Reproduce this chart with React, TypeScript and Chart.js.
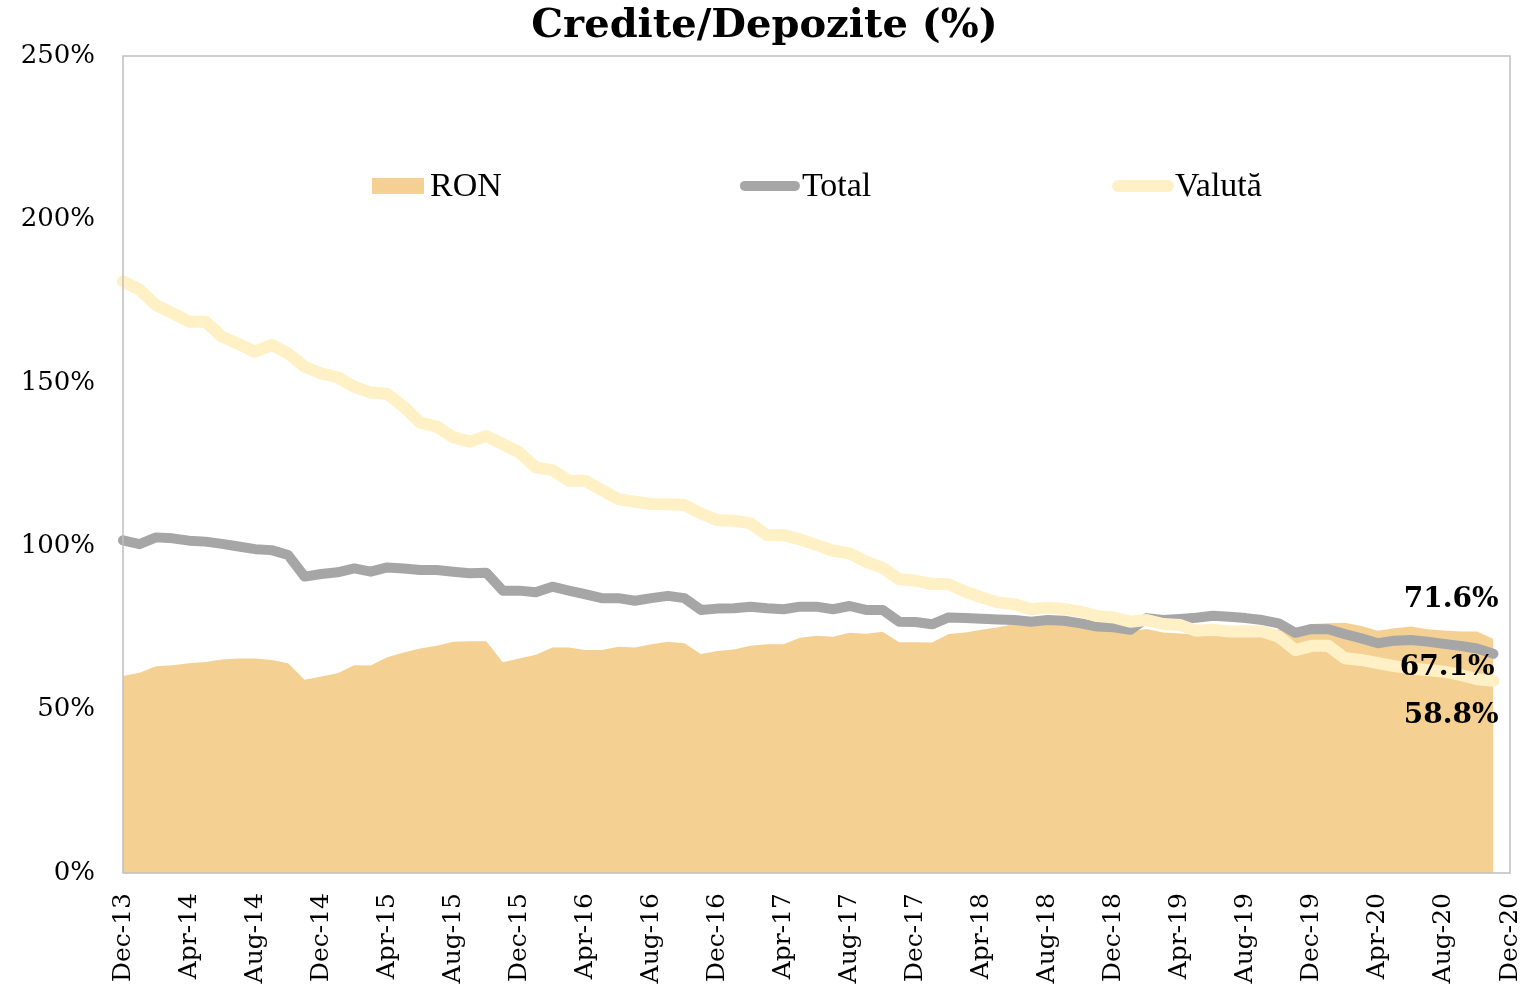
import React, { useEffect, useRef } from "react";
import { Chart, registerables } from "chart.js";

Chart.register(...registerables);

const labels = [
  "Dec-13",
  "Jan-14", "Feb-14", "Mar-14", "Apr-14", "May-14", "Jun-14", "Jul-14", "Aug-14", "Sep-14", "Oct-14", "Nov-14", "Dec-14",
  "Jan-15", "Feb-15", "Mar-15", "Apr-15", "May-15", "Jun-15", "Jul-15", "Aug-15", "Sep-15", "Oct-15", "Nov-15", "Dec-15",
  "Jan-16", "Feb-16", "Mar-16", "Apr-16", "May-16", "Jun-16", "Jul-16", "Aug-16", "Sep-16", "Oct-16", "Nov-16", "Dec-16",
  "Jan-17", "Feb-17", "Mar-17", "Apr-17", "May-17", "Jun-17", "Jul-17", "Aug-17", "Sep-17", "Oct-17", "Nov-17", "Dec-17",
  "Jan-18", "Feb-18", "Mar-18", "Apr-18", "May-18", "Jun-18", "Jul-18", "Aug-18", "Sep-18", "Oct-18", "Nov-18", "Dec-18",
  "Jan-19", "Feb-19", "Mar-19", "Apr-19", "May-19", "Jun-19", "Jul-19", "Aug-19", "Sep-19", "Oct-19", "Nov-19", "Dec-19",
  "Jan-20", "Feb-20", "Mar-20", "Apr-20", "May-20", "Jun-20", "Jul-20", "Aug-20", "Sep-20", "Oct-20", "Nov-20", "Dec-20",
];

const ron = [
  60.3, 61.3, 63.3, 63.6, 64.2, 64.6, 65.3, 65.6, 65.6, 65.2, 64.2, 59.1,
  60.1, 61.1, 63.6, 63.5, 66.0, 67.5, 68.7, 69.5, 70.8, 70.9, 70.9, 64.5,
  65.6, 66.8, 69.0, 69.0, 68.2, 68.2, 69.2, 69.0, 70.0, 70.8, 70.3, 67.0,
  67.9, 68.4, 69.5, 70.0, 70.0, 72.0, 72.6, 72.3, 73.5, 73.2, 73.8, 70.6,
  70.6, 70.5, 73.1, 73.6, 74.4, 75.2, 76.2, 76.0, 76.7, 76.6, 75.6, 74.4,
  74.1, 74.0, 74.7, 73.6, 73.3, 73.0, 73.2, 73.4, 73.5, 73.8, 74.5, 74.8,
  76.2, 76.4, 76.6, 75.6, 74.1, 74.9, 75.4, 74.6, 74.2, 73.9, 73.9, 71.6,
  null,
];

const total = [
  101.8, 100.6, 102.7, 102.4, 101.7, 101.4, 100.7, 99.9, 99.1, 98.8, 97.3, 90.7,
  91.5, 92.0, 93.2, 92.2, 93.5, 93.2, 92.7, 92.7, 92.2, 91.7, 91.9, 86.4,
  86.4, 85.9, 87.6, 86.4, 85.3, 84.1, 84.1, 83.3, 84.1, 84.8, 84.1, 80.5,
  80.9, 81.0, 81.5, 81.0, 80.7, 81.5, 81.5, 80.7, 81.7, 80.5, 80.5, 76.9,
  76.8, 76.1, 78.2, 78.0, 77.8, 77.6, 77.4, 76.9, 77.4, 77.2, 76.4, 75.4,
  75.2, 74.4, 78.0, 77.4, 77.7, 78.1, 78.7, 78.4, 78.0, 77.4, 76.4, 73.5,
  74.7, 74.6, 73.1, 71.8, 70.3, 71.1, 71.3, 70.8, 70.1, 69.5, 68.7, 67.1,
  null,
];

const valuta = [
  181.0, 178.5, 173.8, 171.3, 168.7, 168.7, 164.1, 161.9, 159.5, 161.6, 159.0, 154.9,
  152.9, 151.7, 148.8, 147.0, 146.6, 142.7, 137.8, 136.6, 133.3, 132.0, 133.7, 131.2,
  128.7, 124.1, 123.3, 120.0, 120.0, 117.2, 114.4, 113.6, 112.9, 112.8, 112.6, 110.0,
  108.0, 107.8, 107.0, 103.4, 103.4, 102.1, 100.4, 98.6, 97.8, 95.3, 93.4, 89.9,
  89.5, 88.4, 88.4, 86.1, 84.3, 82.8, 82.2, 80.7, 81.2, 80.8, 80.0, 78.6,
  78.2, 76.9, 77.4, 76.2, 75.9, 74.1, 74.4, 73.9, 74.0, 73.9, 72.3, 68.2,
  69.5, 69.5, 65.7, 65.2, 64.2, 63.3, 62.6, 62.1, 61.6, 60.6, 59.3, 58.8,
  null,
];

const seriesNames = ["RON", "Total", "Valută"];
const titleText = "Credite/Depozite (%)";

const COLOR_RON = "#F4D192";
const COLOR_TOTAL = "#A6A6A6";
const COLOR_VALUTA = "#FFF0C5";
const SERIF = "'DejaVu Serif', Georgia, serif";
const LEGEND_FONT = "'Liberation Serif', 'Times New Roman', serif";

export default function App() {
  const ref = useRef<HTMLCanvasElement | null>(null);

  useEffect(() => {
    if (!ref.current) return;

    const borderPlugin = {
      id: "plotBorder",
      afterDatasetsDraw(chart: any) {
        const { ctx, chartArea } = chart;
        ctx.save();
        ctx.strokeStyle = "#BFBFBF";
        ctx.lineWidth = 1.5;
        ctx.strokeRect(chartArea.left, chartArea.top, chartArea.right - chartArea.left, chartArea.bottom - chartArea.top);
        ctx.restore();
      },
    };

    const legendPlugin = {
      id: "insideLegend",
      afterDatasetsDraw(chart: any) {
        const { ctx, chartArea } = chart;
        const w = chartArea.right - chartArea.left;
        const h = chartArea.bottom - chartArea.top;
        const y = chartArea.top + h * 0.159;
        const fracs = [0.1795, 0.4448, 0.7138];
        ctx.save();
        ctx.font = `34px ${LEGEND_FONT}`;
        ctx.fillStyle = "#000";
        ctx.textBaseline = "middle";
        ctx.textAlign = "left";
        seriesNames.forEach((name, i) => {
          const x0 = chartArea.left + w * fracs[i];
          if (i === 0) {
            ctx.fillStyle = COLOR_RON;
            ctx.fillRect(x0, y - 8, 52, 16);
          } else {
            ctx.strokeStyle = i === 1 ? COLOR_TOTAL : COLOR_VALUTA;
            ctx.lineWidth = i === 1 ? 10 : 12;
            ctx.lineCap = "round";
            ctx.beginPath();
            ctx.moveTo(x0 + 5, y);
            ctx.lineTo(x0 + 55, y);
            ctx.stroke();
          }
          ctx.fillStyle = "#000";
          ctx.fillText(name, x0 + (i === 0 ? 58 : 62), y + 1);
        });
        ctx.restore();
      },
    };

    const endLabelPlugin = {
      id: "endLabels",
      afterDatasetsDraw(chart: any) {
        const { ctx } = chart;
        const offsets = [
          { dx: 5, dy: -39 },
          { dx: 1, dy: 14 },
          { dx: 5, dy: 35 },
        ];
        ctx.save();
        ctx.font = `bold 28px ${SERIF}`;
        ctx.fillStyle = "#000";
        ctx.textAlign = "right";
        ctx.textBaseline = "middle";
        chart.data.datasets.forEach((ds: any, di: number) => {
          const meta = chart.getDatasetMeta(di);
          let idx = ds.data.length - 1;
          while (idx >= 0 && ds.data[idx] == null) idx--;
          if (idx < 0) return;
          const pt = meta.data[idx];
          const v = ds.data[idx] as number;
          ctx.fillText(`${v.toFixed(1)}%`, pt.x + offsets[di].dx, pt.y + offsets[di].dy);
        });
        ctx.restore();
      },
    };

    const chart = new Chart(ref.current, {
      type: "line",
      data: {
        labels,
        datasets: [
          {
            label: seriesNames[0],
            data: ron,
            fill: "origin",
            backgroundColor: COLOR_RON,
            borderColor: COLOR_RON,
            borderWidth: 0,
            pointRadius: 0,
            tension: 0,
            order: 3,
          },
          {
            label: seriesNames[1],
            data: total,
            fill: false,
            borderColor: COLOR_TOTAL,
            borderWidth: 10,
            borderCapStyle: "round",
            borderJoinStyle: "round",
            pointRadius: 0,
            tension: 0,
            order: 2,
          },
          {
            label: seriesNames[2],
            data: valuta,
            fill: false,
            borderColor: COLOR_VALUTA,
            borderWidth: 12,
            borderCapStyle: "round",
            borderJoinStyle: "round",
            pointRadius: 0,
            tension: 0,
            order: 1,
          },
        ],
      },
      options: {
        animation: false,
        responsive: true,
        maintainAspectRatio: false,
        layout: { padding: { left: 0, right: 0, top: 0, bottom: 0 } },
        plugins: {
          legend: { display: false },
          tooltip: { enabled: false },
          title: {
            display: true,
            text: titleText,
            color: "#000",
            font: { family: SERIF, size: 40, weight: "bold", lineHeight: 1.2 },
            padding: { top: 3, bottom: 5 },
          },
        },
        scales: {
          x: {
            type: "category",
            offset: false,
            grid: { display: false, drawTicks: false },
            border: { display: false },
            afterFit: (scale: any) => {
              scale.height = 125;
              scale.paddingRight = 19;
              scale.paddingLeft = 0;
            },
            ticks: {
              autoSkip: false,
              maxRotation: 90,
              minRotation: 90,
              padding: 20,
              color: "#000",
              font: { family: SERIF, size: 25 },
              callback: (_v: any, idx: number) => (idx % 4 === 0 ? labels[idx] : ""),
            },
          },
          y: {
            min: 0,
            max: 250,
            grid: { display: false, drawTicks: false },
            border: { display: false },
            afterFit: (scale: any) => {
              scale.width = 123;
            },
            ticks: {
              stepSize: 50,
              padding: 28,
              color: "#000",
              font: { family: SERIF, size: 26 },
              callback: (v: any) => `${v}%`,
            },
          },
        },
      },
      plugins: [borderPlugin, legendPlugin, endLabelPlugin],
    } as any);

    return () => chart.destroy();
  }, []);

  return (
    <div style={{ position: "absolute", left: 0, top: 0, width: 1529, height: 998, background: "#fff" }}>
      <canvas ref={ref} />
    </div>
  );
}
